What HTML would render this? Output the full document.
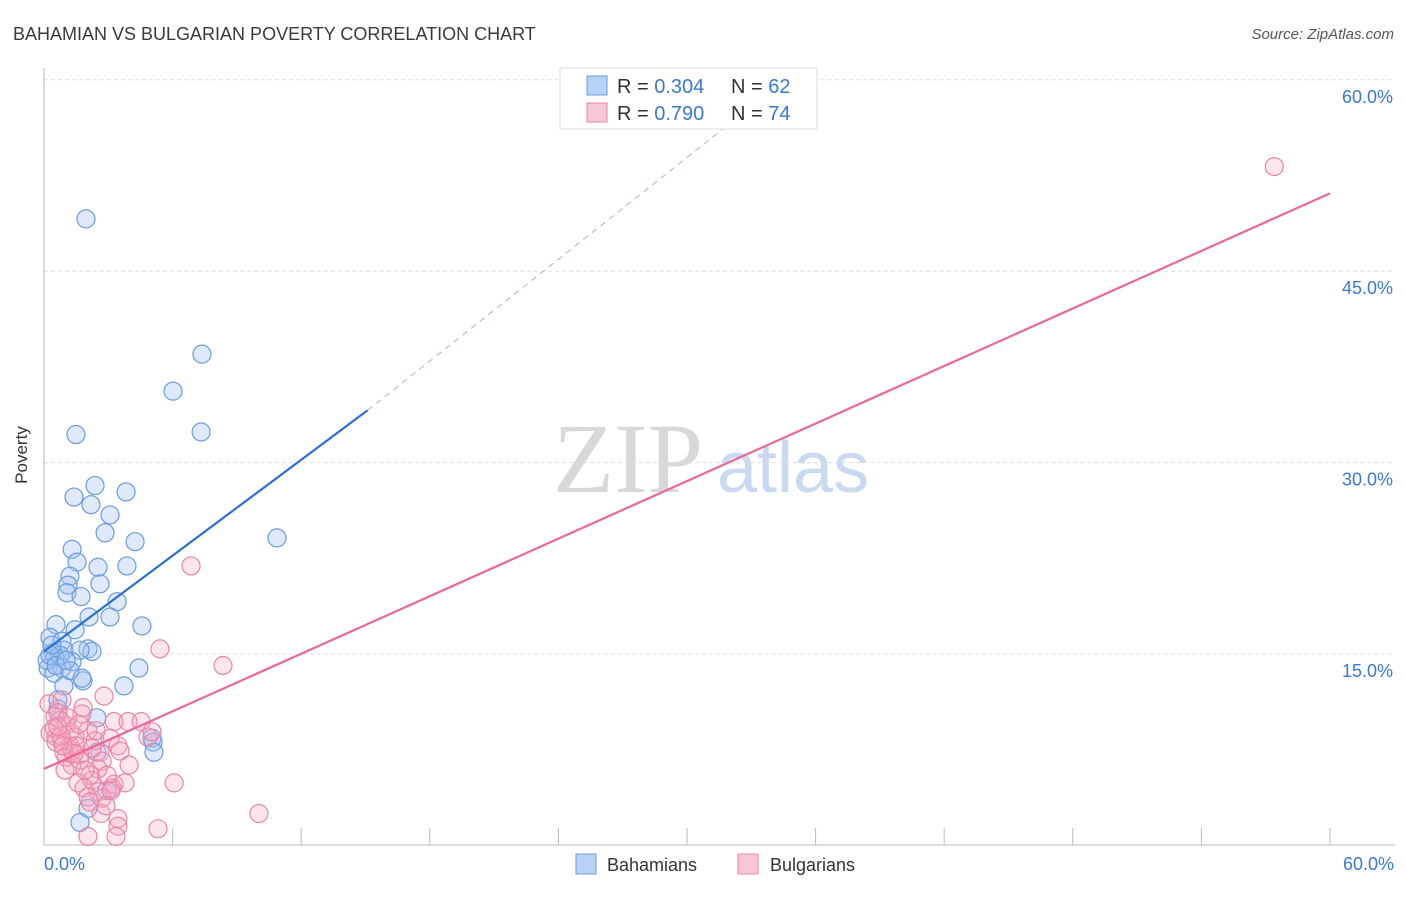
<!DOCTYPE html>
<html><head><meta charset="utf-8"><style>
body{margin:0;background:#fff;font-family:"Liberation Sans",sans-serif}
svg text{font-family:"Liberation Sans",sans-serif}
svg text.serif{font-family:"Liberation Serif",serif}
</style></head><body>
<svg width="1406" height="892" id="chart">
<text x="13" y="40" font-size="18" fill="#3a3a3a">BAHAMIAN VS BULGARIAN POVERTY CORRELATION CHART</text>
<text x="1394" y="39" font-size="15" fill="#555" font-style="italic" text-anchor="end">Source: ZipAtlas.com</text>
<g>
<text class="serif" x="553" y="492" font-size="100" fill="#d8d8d8">ZIP</text>
<text x="717" y="492" font-size="72" fill="#c9daf0">atlas</text>
</g>
<g id="grid"></g>
<line x1="44" y1="68" x2="44" y2="845" stroke="#bbb"/>
<line x1="44" y1="845" x2="1395" y2="845" stroke="#bbb"/>
<g id="xticks"></g>
<text x="27" y="455" font-size="17" fill="#333" text-anchor="middle" transform="rotate(-90 27 455)">Poverty</text>
<g id="pts"></g>
<g id="lines"></g>
<g>
<rect x="560" y="68" width="257" height="61" fill="#fff" stroke="#ddd"/>
<rect x="587" y="76" width="20" height="19" fill="#b7d2f5" stroke="#6a9be0"/>
<text x="617" y="93" font-size="20" fill="#333">R = <tspan fill="#3a78d4">0.304</tspan></text>
<text x="731" y="93" font-size="20" fill="#333">N = <tspan fill="#3a78d4">62</tspan></text>
<rect x="587" y="103" width="20" height="19" fill="#f8c6d5" stroke="#e886a6"/>
<text x="617" y="120" font-size="20" fill="#333">R = <tspan fill="#3a78d4">0.790</tspan></text>
<text x="731" y="120" font-size="20" fill="#333">N = <tspan fill="#3a78d4">74</tspan></text>
</g>
<g>
<rect x="576" y="854" width="20" height="20" fill="#b7d2f5" stroke="#6a9be0"/>
<text x="607" y="871" font-size="18" fill="#333">Bahamians</text>
<rect x="738" y="854" width="20" height="20" fill="#f8c6d5" stroke="#e886a6"/>
<text x="770" y="871" font-size="18" fill="#333">Bulgarians</text>
</g>
</svg>
<script>
const yTicks=[15,30,45,60];
const yTickLabels=["15.0%","30.0%","45.0%","60.0%"];
const xTicks=[0,6,12,18,24,30,36,42,48,54,60];
const xEndLabels=["0.0%","60.0%"];
const blueX=[1.96,7.37,6.02,7.33,1.49,2.38,3.83,1.40,2.19,3.08,2.85,4.25,10.87,1.31,1.54,2.52,3.87,1.21,1.12,2.61,1.07,1.73,3.41,2.10,3.08,4.57,0.56,1.45,0.28,0.84,0.93,2.05,2.24,1.68,0.42,0.51,1.31,0.19,0.84,0.47,1.82,4.43,3.73,0.93,0.65,2.47,5.04,5.09,5.13,2.47,2.94,2.05,1.68,0.14,0.75,0.28,0.56,1.21,1.03,0.37,1.77,0.65];
const blueY=[49.1,38.5,35.6,32.4,32.2,28.2,27.7,27.3,26.7,25.9,24.5,23.8,24.1,23.2,22.2,21.8,21.9,21.1,20.4,20.5,19.8,19.5,19.1,17.9,17.9,17.2,17.3,16.9,16.3,16.0,15.3,15.4,15.2,15.3,15.1,14.7,14.4,13.9,13.9,13.5,12.9,13.9,12.5,12.5,10.7,10.0,8.4,8.1,7.3,7.3,4.3,2.9,1.8,14.5,14.9,14.9,14.1,13.7,14.5,15.7,13.1,11.4];
const pinkX=[57.4,6.86,5.41,8.35,2.80,0.84,0.23,1.77,0.51,1.03,3.27,3.92,4.53,2.05,0.28,0.56,1.45,3.08,4.85,5.04,0.84,3.45,1.21,1.31,0.93,2.61,1.68,1.03,1.68,2.71,3.97,1.31,2.52,2.15,2.24,1.59,3.27,3.17,1.87,6.07,2.52,2.05,2.71,2.15,3.45,2.66,10.03,3.45,5.32,3.36,2.05,0.75,0.65,0.56,0.47,1.21,2.38,3.55,0.98,2.89,1.91,1.49,2.24,1.12,0.79,1.63,2.94,1.40,0.65,2.43,3.13,3.78,1.82,0.89];
const pinkY=[53.2,21.9,15.4,14.1,11.7,11.4,11.1,10.3,10.1,9.4,9.7,9.7,9.7,9.0,8.8,8.5,8.5,8.4,8.5,8.9,8.2,7.8,7.8,7.4,7.3,7.3,7.1,6.9,6.7,6.6,6.3,6.3,6.0,5.5,5.1,4.9,4.8,4.5,4.5,4.9,4.2,3.8,3.7,3.4,2.1,2.5,2.5,1.5,1.3,0.7,0.7,9.8,10.4,8.1,9.2,8.9,8.2,7.4,5.9,3.1,5.9,7.8,7.6,10.0,8.6,9.5,5.5,7.2,9.3,9.0,4.3,4.9,10.8,7.8];
const blueLine=[[0,15.2],[15.1,34.1],[34.2,59.5]];
const pinkLine=[[0,6.0],[60,51.1]];
const NS="http://www.w3.org/2000/svg";
const sx=v=>44+v*21.433;
const sy=v=>845.4-v*12.76;
function mk(tag,attrs,parent){const e=document.createElementNS(NS,tag);for(const k in attrs)e.setAttribute(k,attrs[k]);parent.appendChild(e);return e;}
const grid=document.getElementById('grid');
yTicks.forEach((t,i)=>{
 const l=mk('line',{x1:44,x2:1395,y1:sy(t),y2:sy(t),stroke:'#ddd','stroke-dasharray':'4,3'},grid);
 
 
 const tx=mk('text',{x:1393,y:sy(t)+23,'font-size':18,fill:'#3a78d4','text-anchor':'end'},grid);
 tx.textContent=yTickLabels[i];
 
 
});
const xt=document.getElementById('xticks');
xTicks.forEach(t=>{
 const l=mk('line',{x1:sx(t),x2:sx(t),y1:828,y2:845,stroke:'#bbb'},xt);
 
 
});
[[0,'start',44],[60,'end',1394]].forEach((d,i)=>{
 const tx=mk('text',{x:d[2],y:870,'font-size':18,fill:'#3a78d4','text-anchor':d[1]},xt);
 tx.textContent=xEndLabels[i];
 
 
});
const pts=document.getElementById('pts');
blueX.forEach((x,i)=>{
 const c=mk('circle',{cx:sx(x),cy:sy(blueY[i]),r:9,fill:'rgba(160,196,240,0.35)',stroke:'#6a9be0','stroke-width':1.2},pts);
 
 
});
pinkX.forEach((x,i)=>{
 const c=mk('circle',{cx:sx(x),cy:sy(pinkY[i]),r:9,fill:'rgba(245,170,195,0.3)',stroke:'#e886a6','stroke-width':1.2},pts);
 
 
});
const lines=document.getElementById('lines');
const b1=mk('line',{x1:sx(blueLine[0][0]),y1:sy(blueLine[0][1]),x2:sx(blueLine[1][0]),y2:sy(blueLine[1][1]),stroke:'#2a6fd6','stroke-width':2.2},lines);


const b2=mk('line',{x1:sx(blueLine[1][0]),y1:sy(blueLine[1][1]),x2:sx(blueLine[2][0]),y2:sy(blueLine[2][1]),stroke:'#9ab8e0','stroke-width':1,'stroke-dasharray':'6,5'},lines);


const p1=mk('line',{x1:sx(pinkLine[0][0]),y1:sy(pinkLine[0][1]),x2:sx(pinkLine[1][0]),y2:sy(pinkLine[1][1]),stroke:'#e8689a','stroke-width':2.2},lines);


</script>
</body></html>
